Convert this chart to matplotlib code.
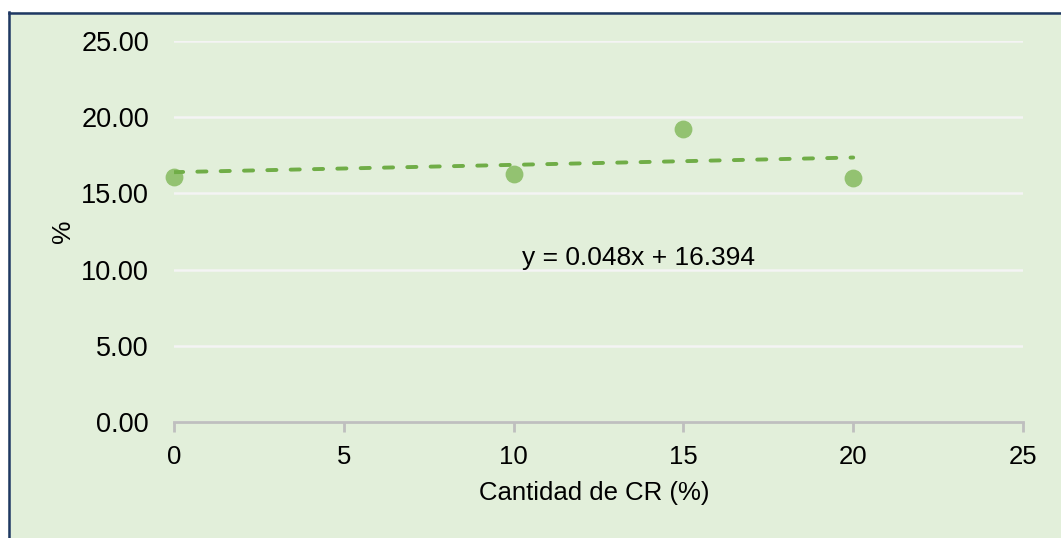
import numpy as np
import matplotlib
matplotlib.use('Agg')
import matplotlib.pyplot as plt
from matplotlib.patches import Rectangle
from matplotlib.lines import Line2D

plt.rcParams['font.family'] = ['Liberation Sans', 'DejaVu Sans']

# data
cantidad = [0, 10, 15, 20]
porcentaje = [16.08, 16.27, 19.23, 16.01]
slope = 0.048
intercept = 16.394
ecuacion = 'y = 0.048x + 16.394'
xticks = [0, 5, 10, 15, 20, 25]
yticks = [0, 5, 10, 15, 20, 25]

bg = '#E2EFDA'

fig = plt.figure(figsize=(10.61, 5.38), dpi=100)
fig.patch.set_facecolor('white')

# green chart area with a dark blue edge on left and top
W, H = 1061, 538
fig.patches.append(Rectangle((8 / W, 0), 1, 1 - 12 / H, transform=fig.transFigure,
                             facecolor=bg, edgecolor='none', zorder=-5))
fig.lines.append(Line2D([9 / W, 9 / W], [0, 1 - 12 / H], transform=fig.transFigure,
                        color='#1F3864', lw=1.8, zorder=-4))
fig.lines.append(Line2D([9 / W, 1], [1 - 13 / H, 1 - 13 / H], transform=fig.transFigure,
                        color='#1F3864', lw=1.8, zorder=-4))

ax = fig.add_axes([174 / W, 1 - 422 / H, (1023 - 174) / W, (422 - 41) / H])
ax.patch.set_visible(False)

ax.set_xlim(0, 25)
ax.set_ylim(0, 25)
ax.set_xticks(xticks)
ax.set_yticks(yticks)
ax.set_yticklabels(['%.2f' % v for v in yticks])

for s in ['top', 'right', 'left']:
    ax.spines[s].set_visible(False)
ax.spines['bottom'].set_color('#BFBFBF')
ax.spines['bottom'].set_linewidth(2)

ax.grid(axis='y', color='#F4F4F4', lw=1.8)
ax.set_axisbelow(True)
ax.tick_params(axis='y', length=0, pad=18, labelsize=19.5)
ax.tick_params(axis='x', length=7, width=2, color='#BFBFBF', pad=9.5, labelsize=18.5)

ax.scatter(cantidad, porcentaje, s=140, color='#93C271', zorder=3, clip_on=False)

# linear trend line
xt = np.array([min(cantidad), max(cantidad)])
ax.plot(xt, slope * xt + intercept, color='#70AD47', lw=2.8,
        linestyle=(0, (2.35, 3.65)), dash_capstyle='round', zorder=4)

ax.text(10.25, 10.75, ecuacion, fontsize=19, ha='left', va='center')

ax.set_xlabel('Cantidad de CR (%)', fontsize=18.5, va='baseline')
ax.xaxis.set_label_coords(0.495, -0.205)
ax.set_ylabel('%', fontsize=19, va='center')
ax.yaxis.set_label_coords(-0.131, 0.501)

fig.savefig('out.png', dpi=100)
